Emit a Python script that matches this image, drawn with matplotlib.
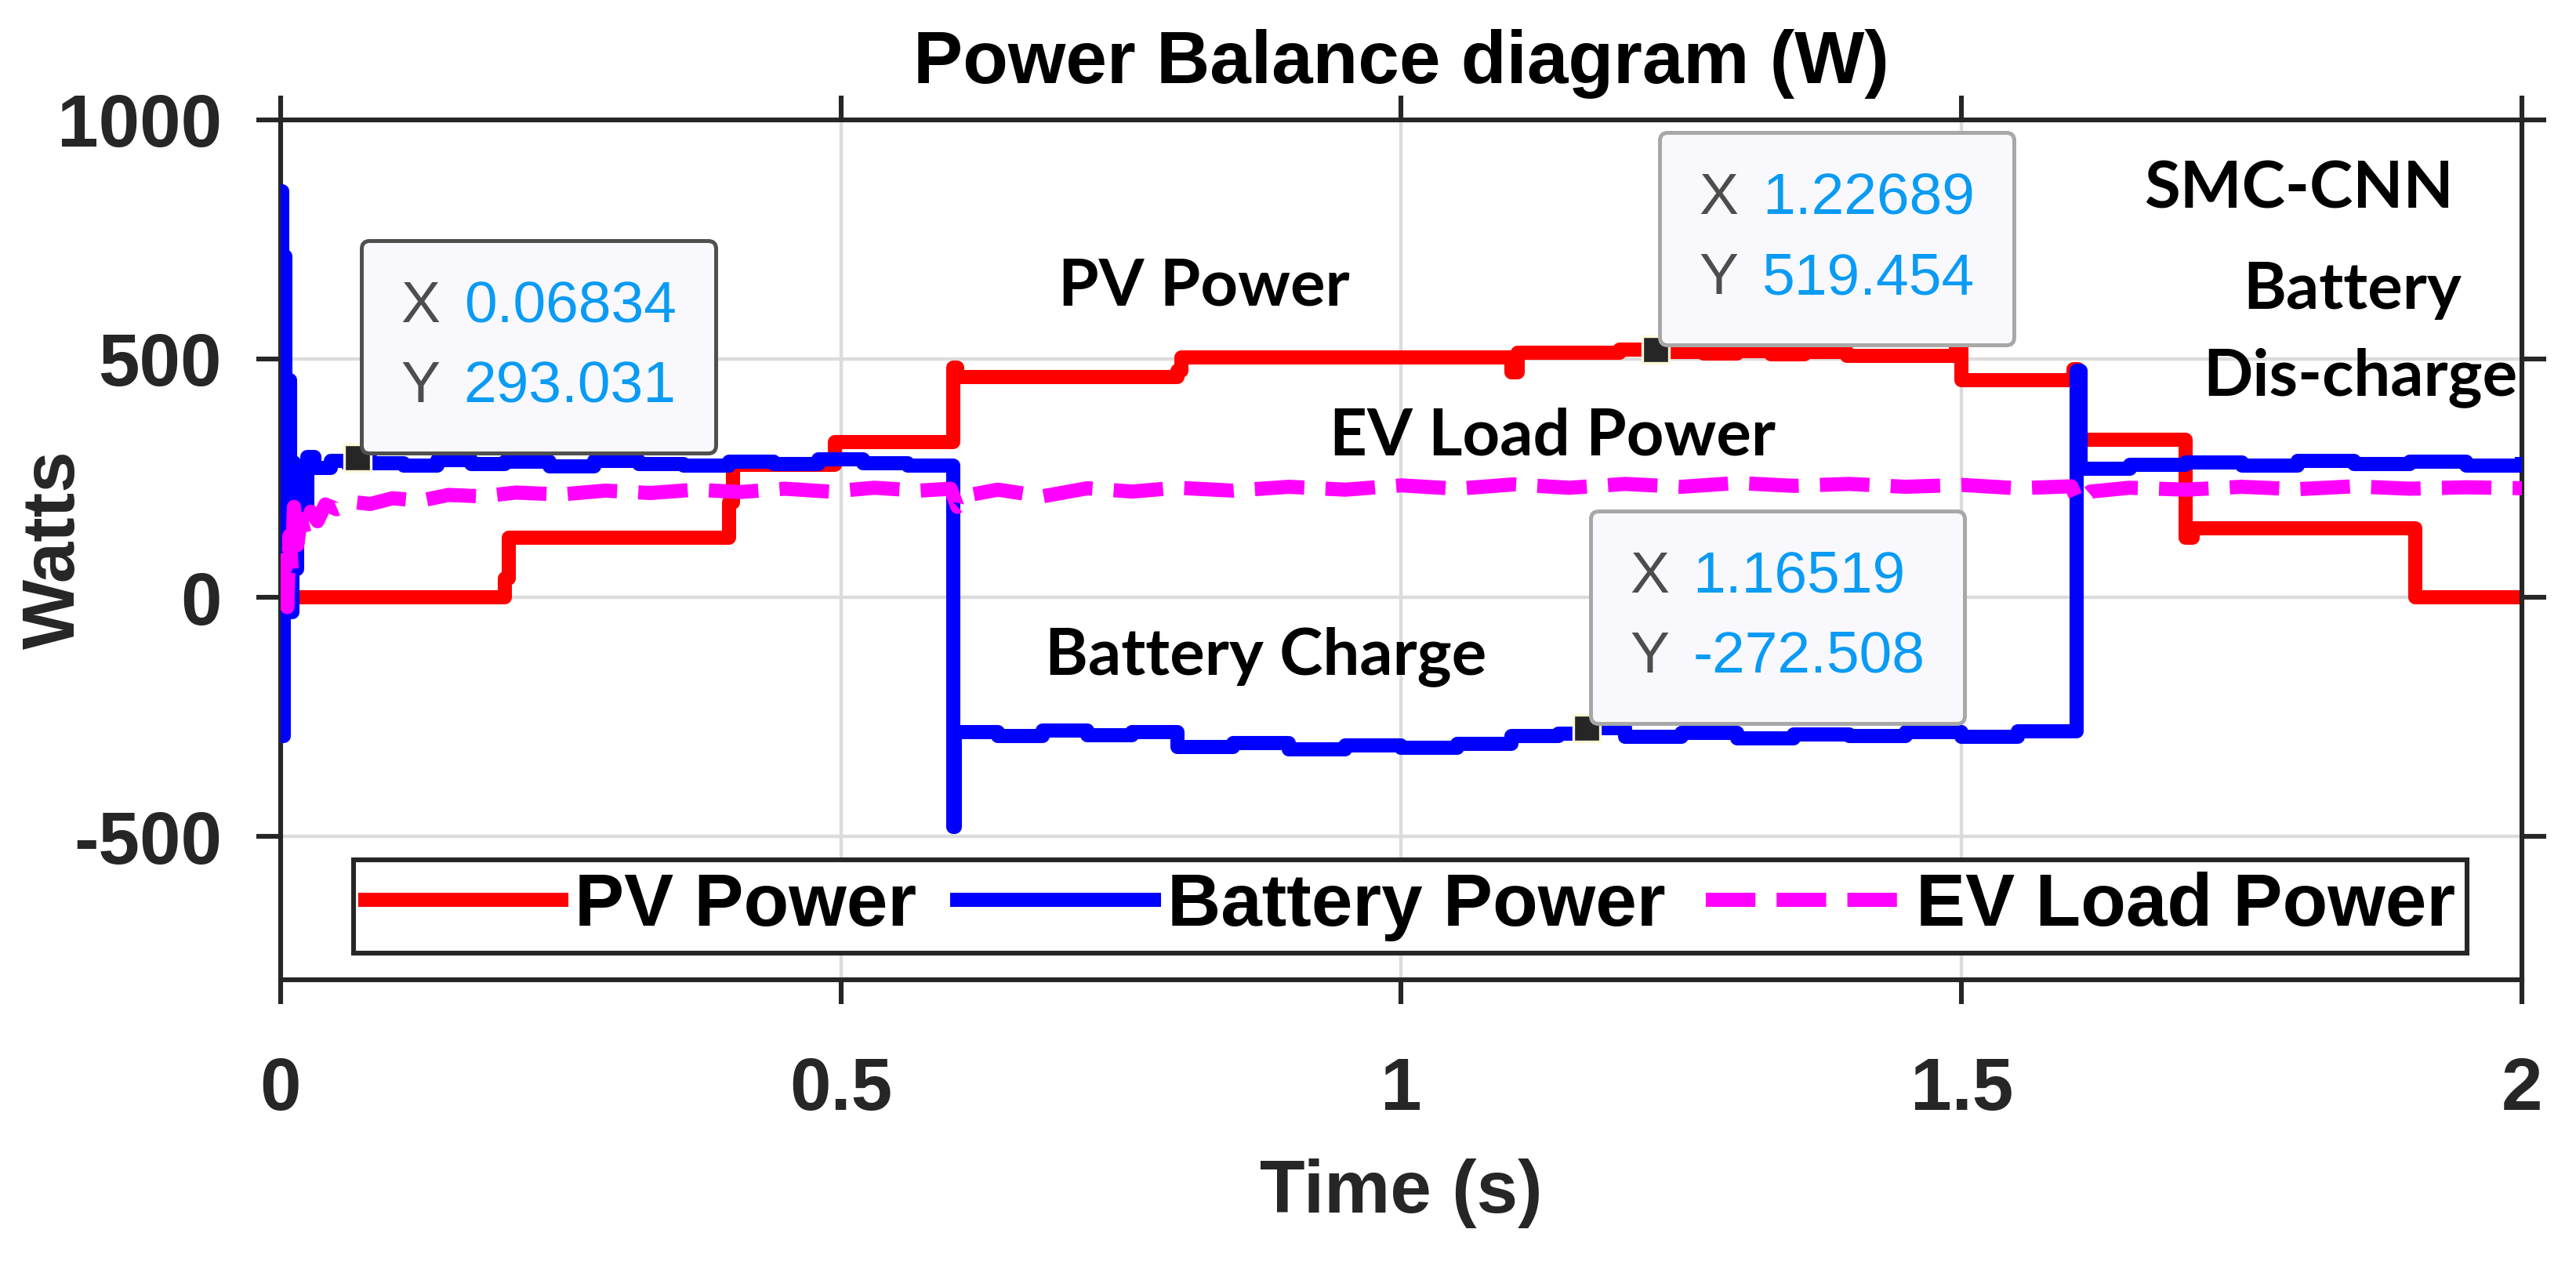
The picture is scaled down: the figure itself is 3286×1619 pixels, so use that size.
import matplotlib
matplotlib.use('Agg')
import matplotlib.pyplot as plt
from matplotlib.offsetbox import TextArea, HPacker, VPacker, AnnotationBbox

plt.rcParams['font.family'] = ['Liberation Sans', 'DejaVu Sans']
plt.rcParams['axes.unicode_minus'] = False

# PV power (W), piecewise constant
pv_t = [0.000, 0.200, 0.204, 0.400, 0.404, 0.495, 0.600, 0.604, 0.800, 0.804,
        1.098, 1.104, 1.195, 1.235, 1.270, 1.300, 1.330, 1.360, 1.398, 1.495,
        1.500, 1.600, 1.604, 1.700, 1.706, 1.905, 2.000]
pv_w = [0, 40, 125, 200, 278, 325, 482, 462, 475, 503,
        472, 513, 519, 515, 511, 516, 510, 514, 506, 525,
        456, 478, 330, 125, 145, 0, 0]

# battery power (W)
bat_t = [0.000, 0.0005, 0.0015, 0.003, 0.0045, 0.007, 0.0085, 0.0105, 0.012, 0.015,
         0.019, 0.024, 0.030, 0.045, 0.060, 0.068, 0.080, 0.110, 0.140, 0.170,
         0.200, 0.240, 0.280, 0.320, 0.360, 0.400, 0.440, 0.480, 0.520, 0.560,
         0.600, 0.602, 0.640, 0.680, 0.720, 0.760, 0.800, 0.850, 0.900, 0.950,
         1.000, 1.050, 1.098, 1.140, 1.165, 1.200, 1.250, 1.300, 1.350, 1.400,
         1.450, 1.500, 1.550, 1.603, 1.606, 1.650, 1.700, 1.750, 1.800, 1.850,
         1.900, 1.950, 2.000]
bat_w = [0, 850, -290, 715, -30, 456, -30, 283, 60, 240,
         190, 295, 272, 286, 278, 293, 281, 276, 288, 279,
         284, 275, 287, 280, 276, 285, 279, 290, 282, 277,
         -480, -282, -290, -278, -288, -281, -312, -305, -318, -309,
         -314, -306, -290, -285, -273, -291, -283, -294, -286, -290,
         -282, -292, -280, 475, 270, 278, 283, 276, 286, 279,
         284, 277, 280]

# EV load power (W)
ev_t = [0.002, 0.004, 0.006, 0.008, 0.010, 0.012, 0.015, 0.018, 0.022, 0.027,
        0.033, 0.040, 0.050, 0.065, 0.080, 0.100, 0.125, 0.150, 0.180, 0.210,
        0.250, 0.290, 0.330, 0.370, 0.410, 0.450, 0.490, 0.530, 0.570, 0.598,
        0.604, 0.615, 0.640, 0.680, 0.720, 0.760, 0.800, 0.850, 0.900, 0.950,
        1.000, 1.050, 1.100, 1.150, 1.200, 1.250, 1.300, 1.350, 1.400, 1.450,
        1.500, 1.550, 1.598, 1.604, 1.615, 1.650, 1.700, 1.750, 1.800, 1.850,
        1.900, 1.950, 2.000]
ev_w = [0, 80, -20, 130, 60, 190, 110, 165, 130, 180,
        160, 195, 185, 200, 196, 208, 203, 215, 212, 220,
        216, 224, 219, 226, 221, 228, 222, 230, 224, 228,
        190, 215, 226, 212, 229, 222, 230, 224, 232, 226,
        235, 228, 237, 230, 238, 232, 240, 234, 238, 232,
        236, 229, 233, 200, 222, 230, 226, 232, 227, 233,
        228, 231, 229]

# data tips
tip_x = [0.06834, 1.22689, 1.16519]
tip_y = [293.031, 519.454, -272.508]
tip_edge = ['#505050', '#a8a8a8', '#a8a8a8']

x_ticks = [0, 0.5, 1, 1.5, 2]
x_tick_labels = ['0', '0.5', '1', '1.5', '2']
y_ticks = [-500, 0, 500, 1000]

fig = plt.figure(figsize=(16.43, 8.095), dpi=200)
ax = fig.add_axes([0.1089, 0.2279, 0.8701, 0.6776])

ax.plot(pv_t, pv_w, color='#ff0000', lw=6.5, drawstyle='steps-post',
        label='PV Power', zorder=2)
ax.plot(bat_t, bat_w, color='#0000ff', lw=6.5, drawstyle='steps-post',
        label='Battery Power', zorder=3)
ax.plot(ev_t, ev_w, color='#ff00ff', lw=6.5, dashes=(3.5, 1.5),
        label='EV Load Power', zorder=4)

ax.set_xlim(0, 2)
ax.set_ylim(-800, 1000)
ax.set_xticks(x_ticks, x_tick_labels)
ax.set_yticks(y_ticks)
ax.grid(True, color='#dcdcdc', lw=1.6)
ax.set_axisbelow(True)

ax.tick_params(direction='out', length=11, width=2.2, color='#262626',
               labelsize=34, labelcolor='#262626', top=True, right=True)
ax.tick_params(axis='x', pad=24)
ax.tick_params(axis='y', pad=16)
for lbl in ax.get_xticklabels() + ax.get_yticklabels():
    lbl.set_fontweight('bold')
for s in ax.spines.values():
    s.set_linewidth(2.2)
    s.set_color('#262626')

ax.set_title('Power Balance diagram (W)', fontsize=34, fontweight='bold',
             color='#000000', y=1.043, pad=0)
ax.set_xlabel('Time (s)', fontsize=34, fontweight='bold', color='#262626')
ax.set_ylabel('Watts', fontsize=34, fontweight='bold', color='#262626')
ax.xaxis.set_label_coords(0.5, -0.208)
ax.yaxis.set_label_coords(-0.085, 0.5)

# annotations
note_kw = dict(family='Lato', fontweight='bold', fontsize=30, color='black',
               ha='center', va='baseline', zorder=5)
ax.text(0.824, 612, 'PV Power', **note_kw)
ax.text(1.135, 298, 'EV Load Power', **note_kw)
ax.text(0.879, -160, 'Battery Charge', **note_kw)
ax.text(1.801, 816, 'SMC-CNN', **note_kw)
ax.text(1.849, 604, 'Battery', **note_kw)
ax.text(1.856, 423, 'Dis-charge', **note_kw)

leg = ax.legend(loc='lower center', bbox_to_anchor=(0.504, 0.031), ncol=3,
                prop=dict(family='Liberation Sans', weight='bold', size=34),
                handlelength=2.65, handletextpad=0.18, columnspacing=0.55,
                borderpad=0.16, borderaxespad=0, fancybox=False,
                edgecolor='#262626', framealpha=1)
leg.get_frame().set_linewidth(2.2)

# data tips
ax.plot(tip_x, tip_y, 's', ms=12, mfc='#262626', mec='#fff8d8', mew=1.2,
        zorder=6)
for x, y, edge in zip(tip_x, tip_y, tip_edge):
    rows = []
    for lab, val in (('X', x), ('Y', y)):
        a = TextArea(lab, textprops=dict(color='#4d4d4d', size=27))
        b = TextArea(f'{val:.6g}', textprops=dict(color='#0a9bf5', size=27))
        rows.append(HPacker(children=[a, b], sep=11, align='baseline'))
    box = VPacker(children=rows, sep=12, pad=18, align='left')
    ab = AnnotationBbox(box, (x, y), xybox=(2, 2), boxcoords='offset points',
                        box_alignment=(0, 0), pad=0, fontsize=10,
                        bboxprops=dict(boxstyle='round,pad=0,rounding_size=0.36',
                                       fc='#f9f9fd', ec=edge, lw=1.8),
                        zorder=7)
    ax.add_artist(ab)

fig.savefig('out.png', dpi=200)
